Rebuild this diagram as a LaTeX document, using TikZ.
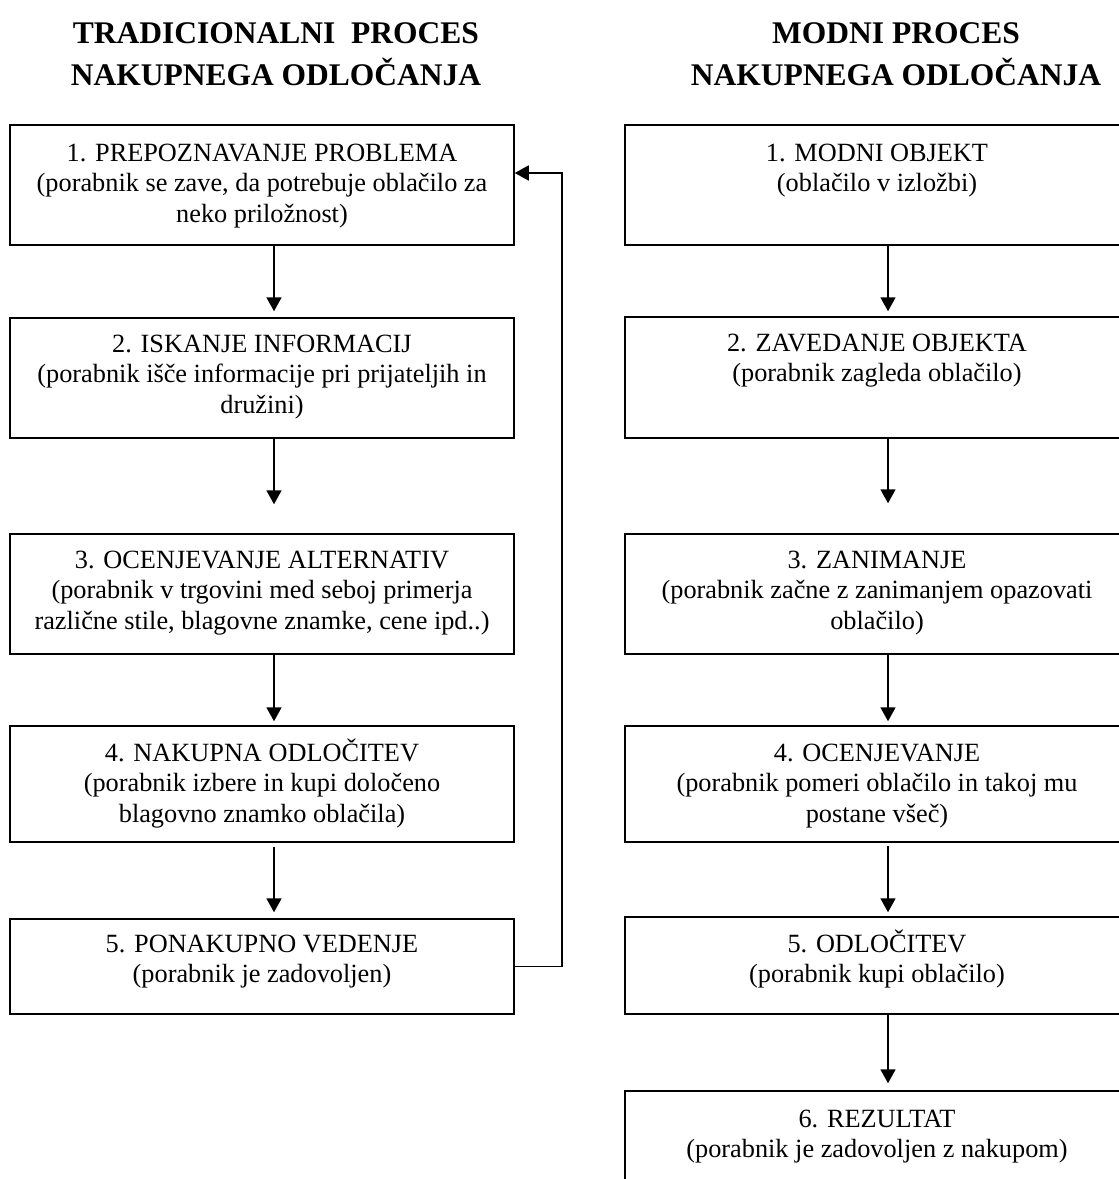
\documentclass[tikz,border=0pt]{standalone}
\usepackage{fontspec}
\setmainfont{Liberation Serif}
\usetikzlibrary{arrows.meta}
\begin{document}
\begin{tikzpicture}[x=1pt,y=-1pt,
  box/.style={draw, line width=1.5pt, rectangle, minimum width=504pt, inner sep=0pt},
  lbl/.style={anchor=north, align=center, inner sep=0pt, outer sep=0pt,
    font=\fontsize{26.3}{30.5}\selectfont},
  ttl/.style={anchor=north, align=center, inner sep=0pt, outer sep=0pt,
    font=\fontsize{31.5}{42}\selectfont\bfseries},
  arr/.style={line width=1.8pt, -{Triangle[length=14pt,width=15pt]}}]
\useasboundingbox (0,0) rectangle (1119,1179);
\clip (0,0) rectangle (1119,1179);
\fill[white] (0,0) rectangle (1119,1179);
\def\st{\rule{0pt}{24pt}}
% titles
\node[ttl] (tl) at (276,19) {\st TRADICIONALNI\ \ PROCES\\NAKUPNEGA ODLOČANJA};
\node[ttl] (tr) at (896,19) {\st MODNI PROCES\\NAKUPNEGA ODLOČANJA};
% left boxes
\node[box, minimum height=120pt] (b1) at (262,185) {};
\node[box, minimum height=120pt] (b2) at (262,378) {};
\node[box, minimum height=120pt] (b3) at (262,594) {};
\node[box, minimum height=116pt] (b4) at (262,784) {};
\node[box, minimum height=95pt] (b5) at (262,966.5) {};
% right boxes
\node[box, minimum height=120pt] (r1) at (877,185) {};
\node[box, minimum height=121pt] (r2) at (877,377.5) {};
\node[box, minimum height=120pt] (r3) at (877,594) {};
\node[box, minimum height=116pt] (r4) at (877,784) {};
\node[box, minimum height=97pt] (r5) at (877,965.5) {};
\node[box, minimum height=130pt] (r6) at (877,1156) {};
% left texts
\node[lbl] (t1) at ([yshift=-13pt]b1.north) {\st 1. PREPOZNAVANJE PROBLEMA\\(porabnik se zave, da potrebuje oblačilo za\\neko priložnost)};
\node[lbl] (t2) at ([yshift=-11pt]b2.north) {\st 2. ISKANJE INFORMACIJ\\(porabnik išče informacije pri prijateljih in\\družini)};
\node[lbl] (t3) at ([yshift=-11pt]b3.north) {\st 3. OCENJEVANJE ALTERNATIV\\(porabnik v trgovini med seboj primerja\\različne stile, blagovne znamke, cene ipd..)};
\node[lbl] (t4) at ([yshift=-12pt]b4.north) {\st 4. NAKUPNA ODLOČITEV\\(porabnik izbere in kupi določeno\\blagovno znamko oblačila)};
\node[lbl] (t5) at ([yshift=-10pt]b5.north) {\st 5. PONAKUPNO VEDENJE\\(porabnik je zadovoljen)};
% right texts
\node[lbl] (u1) at ([yshift=-13pt]r1.north) {\st 1. MODNI OBJEKT\\(oblačilo v izložbi)};
\node[lbl] (u2) at ([yshift=-11pt]r2.north) {\st 2. ZAVEDANJE OBJEKTA\\(porabnik zagleda oblačilo)};
\node[lbl] (u3) at ([yshift=-11pt]r3.north) {\st 3. ZANIMANJE\\(porabnik začne z zanimanjem opazovati\\oblačilo)};
\node[lbl] (u4) at ([yshift=-12pt]r4.north) {\st 4. OCENJEVANJE\\(porabnik pomeri oblačilo in takoj mu\\postane všeč)};
\node[lbl] (u5) at ([yshift=-12pt]r5.north) {\st 5. ODLOČITEV\\(porabnik kupi oblačilo)};
\node[lbl] (u6) at ([yshift=-13pt]r6.north) {\st 6. REZULTAT\\(porabnik je zadovoljen z nakupom)};
% left arrows
\draw[arr] ([xshift=12pt]b1.south) -- ([xshift=12pt,yshift=6pt]b2.north);
\draw[arr] ([xshift=12pt]b2.south) -- ([xshift=12pt,yshift=29pt]b3.north);
\draw[arr] ([xshift=12pt]b3.south) -- ([xshift=12pt,yshift=4pt]b4.north);
\draw[arr] ([xshift=12pt,yshift=-4pt]b4.south) -- ([xshift=12pt,yshift=6pt]b5.north);
% feedback
\draw[arr] (b5.east) -- ++(47,0) |- ([yshift=12pt]b1.east);
% right arrows
\draw[arr] ([xshift=11pt]r1.south) -- ([xshift=11pt,yshift=5pt]r2.north);
\draw[arr] ([xshift=11pt]r2.south) -- ([xshift=11pt,yshift=30pt]r3.north);
\draw[arr] ([xshift=11pt]r3.south) -- ([xshift=11pt,yshift=4pt]r4.north);
\draw[arr] ([xshift=11pt,yshift=-3pt]r4.south) -- ([xshift=11pt,yshift=4pt]r5.north);
\draw[arr] ([xshift=11pt]r5.south) -- ([xshift=11pt,yshift=7pt]r6.north);
\end{tikzpicture}
\end{document}
